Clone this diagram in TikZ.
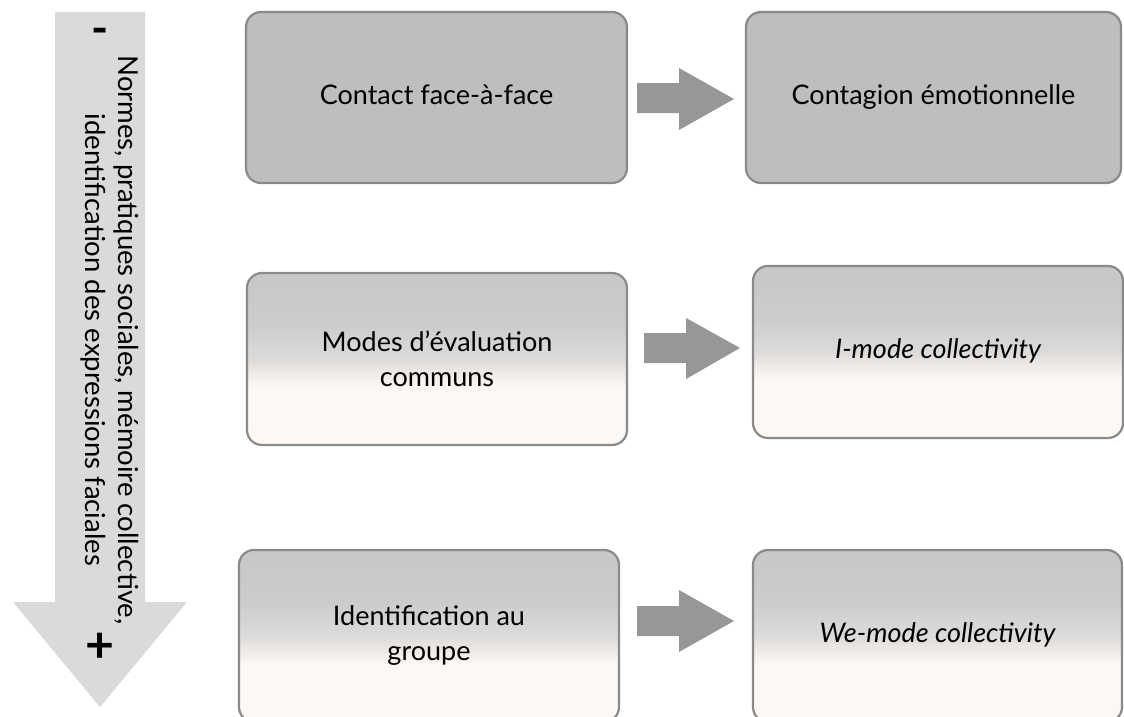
\documentclass[tikz,border=0pt]{standalone}
\usepackage{fontspec}
\setmainfont{Lato}
\definecolor{cream}{HTML}{FDF8F3}
\definecolor{midgray}{HTML}{DDDBDA}
\definecolor{upgray}{HTML}{CCCCCC}
\definecolor{topgray}{HTML}{BFBFBF}
\definecolor{flatgray}{HTML}{BEBEBE}
\definecolor{bordergray}{HTML}{8A8A8A}
\definecolor{arrowgray}{HTML}{979797}
\definecolor{bigarrow}{HTML}{DADADD}
\pgfdeclareverticalshading{boxshade}{100bp}{color(0bp)=(cream); color(42bp)=(cream); color(50bp)=(midgray); color(60bp)=(upgray); color(100bp)=(topgray); color(100bp)=(topgray)}
\tikzset{
  basebox/.style={draw=bordergray, line width=2.2pt, rounded corners=15pt,
    align=center, text=black, font=\fontsize{27}{35}\selectfont},
  oneline/.style={text height=19pt, text depth=6pt},
  flatbox/.style={basebox, fill=flatgray},
  shadebox/.style={basebox, shading=boxshade},
  blockarrow/.style={fill=arrowgray, draw=none},
}
\begin{document}
\begin{tikzpicture}[x=1pt,y=-1pt]
\useasboundingbox (0,0) rectangle (1124,717);
\fill[white] (0,0) rectangle (1124,717);

% big left arrow
\fill[bigarrow] (55,12) -- (145,12) -- (145,602) -- (187,602) -- (100,707) -- (13,602) -- (55,602) -- cycle;
\node[rotate=-90, align=center, font=\fontsize{27.5}{33}\selectfont] (lbl) at (109.5,340)
  {Normes, pratiques sociales, mémoire collective,\\identification des expressions faciales};
\node[font=\fontsize{46}{46}\selectfont\bfseries, inner sep=0pt] (minus) at (100,36) {-};
\node[font=\fontsize{50}{50}\selectfont\bfseries, inner sep=0pt] (plus) at (100,648) {+};

% row 1
\node[flatbox, oneline, minimum width=381pt, minimum height=171pt] (cf) at (436.5,97.5) {Contact face-à-face};
\node[flatbox, oneline, minimum width=375pt, minimum height=171pt] (ce) at (933.5,97.5) {Contagion émotionnelle};
% row 2
\node[shadebox, minimum width=380pt, minimum height=172pt] (me) at (437,359) {Modes d’évaluation\\communs};
\node[shadebox, oneline, minimum width=370pt, minimum height=172pt] (im) at (938,352) {\itshape I-mode collectivity};
% row 3
\node[shadebox, minimum width=380pt, minimum height=172pt] (ig) at (429,636) {Identification au\\groupe};
\node[shadebox, oneline, minimum width=369pt, minimum height=172pt] (wm) at (937.5,636) {\itshape We-mode collectivity};

% block arrows
\fill[blockarrow] (637,83) -- (679,83) -- (679,68) -- (734,99) -- (679,130) -- (679,113) -- (637,113) -- cycle;
\fill[blockarrow] (644,333) -- (686,333) -- (686,318) -- (740,348) -- (686,379) -- (686,363) -- (644,363) -- cycle;
\fill[blockarrow] (637,606) -- (679,606) -- (679,590) -- (734,621) -- (679,652) -- (679,636) -- (637,636) -- cycle;
\end{tikzpicture}
\end{document}
